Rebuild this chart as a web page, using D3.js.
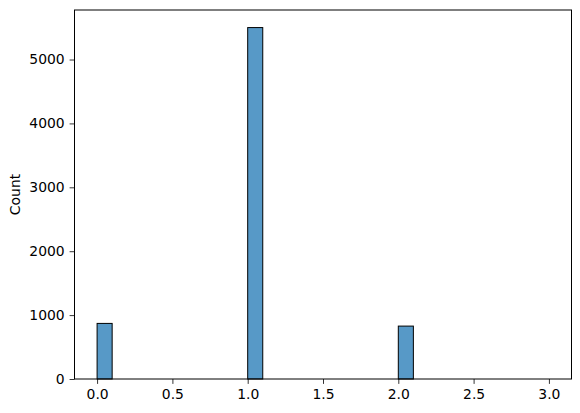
<!DOCTYPE html>
<html>
<head>
<meta charset="utf-8">
<script src="https://cdn.jsdelivr.net/npm/d3@7"></script>
<style>
  body { margin: 0; background: #fff; }
  svg { display: block; }
  text { font-family: "DejaVu Sans", sans-serif; }
</style>
</head>
<body>
<svg id="chart"></svg>
<script>
// histogram bins: 30 bins of width 0.1 from 0 to 3
var binEdges = d3.range(0, 31).map(function (i) { return +(i / 10).toFixed(1); });
var counts = [
  870, 0, 0, 0, 0, 0, 0, 0, 0, 0,
  5500, 0, 0, 0, 0, 0, 0, 0, 0, 0,
  828, 0, 0, 0, 0, 0, 0, 0, 0, 0
];
var xTicks = [0, 0.5, 1, 1.5, 2, 2.5, 3];
var yTicks = [0, 1000, 2000, 3000, 4000, 5000];

var width = 580, height = 413;
// plot area (window.top is reserved, so use own names)
var plotL = 74.5, plotR = 571.5, plotT = 10, plotB = 379;

var svg = d3.select("#chart")
  .attr("width", width)
  .attr("height", height);

var x = d3.scaleLinear().domain([-0.15, 3.15]).range([plotL, plotR]);
var y = d3.scaleLinear().domain([0, d3.max(counts) * 1.05]).range([plotB, plotT]);

var bins = counts.map(function (c, i) {
  return { x0: binEdges[i], x1: binEdges[i + 1], count: c };
});

// bars
svg.append("g")
  .selectAll("rect")
  .data(bins)
  .join("rect")
    .attr("x", function (d) { return x(d.x0); })
    .attr("y", function (d) { return y(d.count); })
    .attr("width", function (d) { return x(d.x1) - x(d.x0); })
    .attr("height", function (d) { return y(0) - y(d.count); })
    .style("fill", "rgba(31,119,180,0.75)")
    .style("stroke", "#000")
    .style("stroke-width", 1);

// axes
var xAxis = svg.append("g")
  .attr("transform", "translate(0," + plotB + ")")
  .call(d3.axisBottom(x).tickValues(xTicks).tickFormat(d3.format(".1f")).tickSize(4.9).tickPadding(4.9));

var yAxis = svg.append("g")
  .attr("transform", "translate(" + plotL + ",0)")
  .call(d3.axisLeft(y).tickValues(yTicks).tickFormat(d3.format("d")).tickSize(4.9).tickPadding(4.9));

[xAxis, yAxis].forEach(function (a) {
  a.select(".domain").remove();
  a.selectAll("line").style("stroke", "#000").style("stroke-width", 0.8);
  a.selectAll("text")
    .style("font-family", "'DejaVu Sans', sans-serif")
    .style("font-size", "13.9px")
    .style("fill", "#000");
});

// frame
svg.append("rect")
  .attr("x", plotL)
  .attr("y", plotT)
  .attr("width", plotR - plotL)
  .attr("height", plotB - plotT)
  .style("fill", "none")
  .style("stroke", "#000")
  .style("stroke-width", 1);

// y label
svg.append("text")
  .attr("transform", "translate(" + 20 + "," + ((plotT + plotB) / 2) + ") rotate(-90)")
  .attr("text-anchor", "middle")
  .style("font-size", "13.9px")
  .text("Count");
</script>
</body>
</html>
